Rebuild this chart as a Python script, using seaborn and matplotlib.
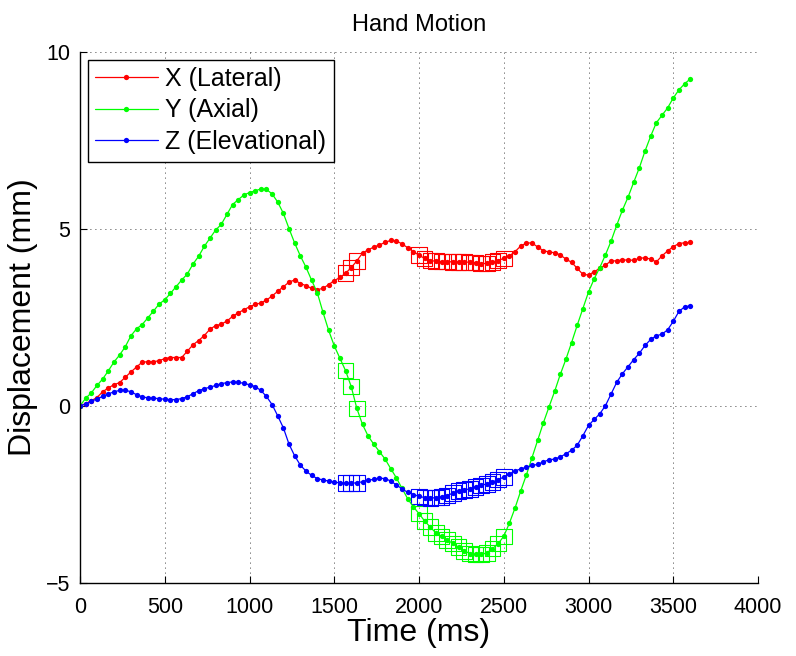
"""
Hand motion displacement over time (X / Y / Z), with flagged frames boxed.
"""

import matplotlib

matplotlib.use("Agg")
import matplotlib.pyplot as plt
import numpy as np
import pandas as pd
import seaborn as sns
from matplotlib.lines import Line2D

# --- data -------------------------------------------------------------------
FRAME_MS = 1000 / 30  # 30 Hz tracking

x_lateral = [
    0.00, 0.07, 0.15, 0.24, 0.40, 0.51, 0.60, 0.66, 0.81, 0.96,
    1.10, 1.24, 1.25, 1.25, 1.28, 1.34, 1.37, 1.37, 1.37, 1.55,
    1.73, 1.85, 1.99, 2.17, 2.27, 2.31, 2.40, 2.53, 2.63, 2.72,
    2.80, 2.87, 2.91, 2.99, 3.11, 3.24, 3.37, 3.50, 3.56, 3.46,
    3.40, 3.32, 3.29, 3.32, 3.43, 3.54, 3.63, 3.75, 3.91, 4.10,
    4.32, 4.41, 4.49, 4.55, 4.62, 4.68, 4.66, 4.58, 4.47, 4.36,
    4.26, 4.17, 4.11, 4.09, 4.08, 4.08, 4.07, 4.07, 4.07, 4.06,
    4.05, 4.02, 4.03, 4.07, 4.11, 4.17, 4.24, 4.36, 4.52, 4.60,
    4.61, 4.49, 4.39, 4.35, 4.33, 4.27, 4.15, 4.06, 3.89, 3.72,
    3.70, 3.79, 3.89, 3.98, 4.10, 4.10, 4.13, 4.12, 4.12, 4.17,
    4.19, 4.15, 4.07, 4.24, 4.38, 4.50, 4.59, 4.61, 4.62,
]
y_axial = [
    0.00, 0.22, 0.37, 0.58, 0.76, 0.99, 1.24, 1.44, 1.67, 1.98,
    2.18, 2.30, 2.49, 2.68, 2.88, 3.00, 3.18, 3.37, 3.56, 3.73,
    4.01, 4.23, 4.51, 4.74, 4.97, 5.13, 5.41, 5.69, 5.83, 5.96,
    6.03, 6.08, 6.13, 6.12, 5.99, 5.76, 5.44, 5.01, 4.60, 4.24,
    3.92, 3.55, 3.20, 2.65, 2.14, 1.70, 1.35, 1.00, 0.55, -0.07,
    -0.52, -0.85, -1.08, -1.29, -1.50, -1.77, -2.03, -2.33, -2.62, -2.85,
    -3.04, -3.25, -3.42, -3.59, -3.68, -3.79, -3.88, -3.99, -4.09, -4.17,
    -4.19, -4.19, -4.15, -4.03, -3.89, -3.68, -3.31, -2.88, -2.40, -1.95,
    -1.46, -0.97, -0.48, -0.03, 0.41, 0.89, 1.32, 1.79, 2.28, 2.75,
    3.22, 3.59, 3.91, 4.27, 4.66, 5.11, 5.53, 5.90, 6.32, 6.73,
    7.20, 7.62, 8.00, 8.21, 8.42, 8.70, 8.93, 9.10, 9.24,
]
z_elevational = [
    0.00, 0.06, 0.13, 0.20, 0.27, 0.34, 0.40, 0.44, 0.45, 0.40,
    0.32, 0.26, 0.23, 0.22, 0.21, 0.19, 0.18, 0.18, 0.21, 0.26,
    0.35, 0.43, 0.49, 0.53, 0.58, 0.63, 0.66, 0.68, 0.67, 0.64,
    0.60, 0.55, 0.44, 0.27, 0.04, -0.28, -0.62, -1.08, -1.41, -1.67,
    -1.84, -1.96, -2.05, -2.09, -2.12, -2.15, -2.17, -2.18, -2.18, -2.17,
    -2.14, -2.10, -2.07, -2.04, -2.05, -2.12, -2.23, -2.34, -2.44, -2.50,
    -2.55, -2.59, -2.60, -2.59, -2.57, -2.53, -2.46, -2.40, -2.37, -2.34,
    -2.29, -2.24, -2.20, -2.15, -2.08, -2.01, -1.92, -1.83, -1.78, -1.73,
    -1.68, -1.65, -1.58, -1.52, -1.50, -1.44, -1.35, -1.25, -1.11, -0.84,
    -0.55, -0.38, -0.22, 0.01, 0.34, 0.67, 0.91, 1.11, 1.31, 1.49,
    1.71, 1.88, 1.98, 2.03, 2.15, 2.39, 2.67, 2.80, 2.83,
]
# frames boxed in the original figure
flagged_frames = [47, 48, 49] + list(range(60, 76))

series_names = ["X (Lateral)", "Y (Axial)", "Z (Elevational)"]
series_colors = ["#ff0000", "#00ff00", "#0000ff"]

# --- tidy frame ---------------------------------------------------------------
time_ms = np.arange(len(x_lateral)) * FRAME_MS
df = pd.concat(
    [
        pd.DataFrame({"time": time_ms, "disp": vals, "axis": name, "frame": np.arange(len(vals))})
        for name, vals in zip(series_names, [x_lateral, y_axial, z_elevational])
    ],
    ignore_index=True,
)
flagged = df[df["frame"].isin(flagged_frames)]
palette = dict(zip(series_names, series_colors))

# --- plot ---------------------------------------------------------------------
sns.set_theme(style="white")
plt.rcParams["font.family"] = ["Liberation Sans", "DejaVu Sans"]
plt.rcParams["text.color"] = "black"
plt.rcParams["axes.labelcolor"] = "black"

fig = plt.figure(figsize=(7.96, 6.56), dpi=100)
ax = fig.add_axes([80 / 796, 1 - 583 / 656, (758 - 80) / 796, (583 - 52) / 656])

sns.lineplot(
    data=df, x="time", y="disp", hue="axis", palette=palette,
    estimator=None, sort=False, marker="o", markersize=3.8, markeredgewidth=0,
    linewidth=0.9, legend=False, ax=ax,
)
sns.scatterplot(
    data=flagged, x="time", y="disp", hue="axis", palette=palette,
    marker="s", s=125, linewidth=0.8, legend=False, ax=ax,
)
# hollow squares: keep only the edge in each series colour
for coll in ax.collections:
    coll.set_facecolor("none")
    coll.set_edgecolor([palette[a] for a in flagged["axis"]])

ax.set_xlim(0, 4000)
ax.set_ylim(-5, 10)
ax.set_xticks(np.arange(0, 4001, 500))
ax.set_yticks([-5, 0, 5, 10])
ax.grid(True, color="black", linestyle=(0, (1, 5)), linewidth=0.6)
for side in ["top", "right"]:
    ax.spines[side].set_visible(False)
for side in ["left", "bottom"]:
    ax.spines[side].set_color("black")
    ax.spines[side].set_linewidth(1.0)
ax.tick_params(direction="in", length=5, width=0.8, labelsize=15.5, colors="black",
               left=True, bottom=True)
ax.tick_params(axis="x", pad=10)
ax.tick_params(axis="y", pad=7)

ax.set_title("Hand Motion", fontsize=17, pad=15, color="black")
ax.set_xlabel("Time (ms)", fontsize=23, labelpad=0)
ax.set_ylabel("Displacement (mm)", fontsize=23, labelpad=6)

handles = [
    Line2D([], [], color=c, marker="o", markersize=3.8, markeredgewidth=0, linewidth=0.9)
    for c in series_colors
]
leg = ax.legend(
    handles, series_names, loc="upper left", fontsize=18, frameon=True,
    fancybox=False, edgecolor="black", framealpha=1, handlelength=2.5,
    labelspacing=0.3, borderpad=0.3, borderaxespad=0.3, handletextpad=0.3,
)
leg.get_frame().set_linewidth(1.0)

fig.savefig("out.png", dpi=100)
plt.close(fig)
